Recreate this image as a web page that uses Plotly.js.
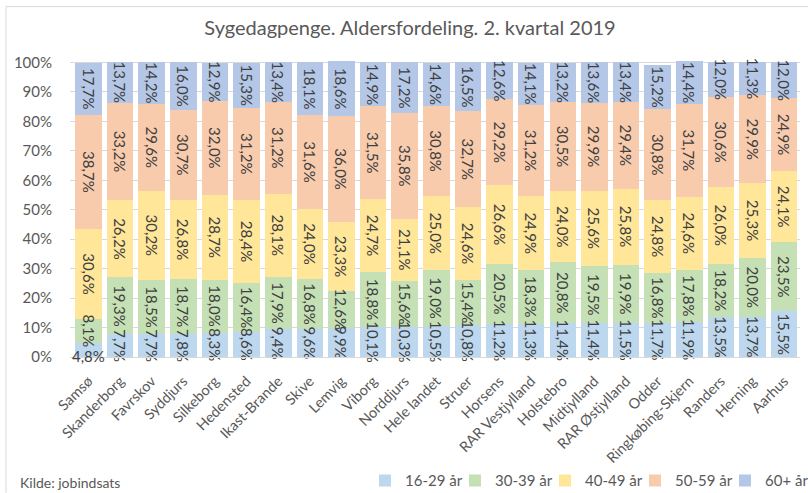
<!DOCTYPE html>
<html>
<head>
<meta charset="utf-8">
<script src="https://cdn.plot.ly/plotly-3.0.1.min.js"></script>
<style>
html,body{margin:0;padding:0;background:#fff;}
#chart{width:808px;height:493px;}
</style>
</head>
<body>
<div id="chart"></div>
<script>
var categories = ["Samsø","Skanderborg","Favrskov","Syddjurs","Silkeborg","Hedensted","Ikast-Brande","Skive","Lemvig","Viborg","Norddjurs","Hele landet","Struer","Horsens","RAR Vestjylland","Holstebro","Midtjylland","RAR Østjylland","Odder","Ringkøbing-Skjern","Randers","Herning","Aarhus"];
var age16_29 = [4.8,7.7,7.7,7.8,8.3,8.6,9.4,9.6,9.9,10.1,10.3,10.5,10.8,11.2,11.3,11.4,11.4,11.5,11.7,11.9,13.5,13.7,15.5];
var age30_39 = [8.1,19.3,18.5,18.7,18.0,16.4,17.9,16.8,12.6,18.8,15.6,19.0,15.4,20.5,18.3,20.8,19.5,19.9,16.8,17.8,18.2,20.0,23.5];
var age40_49 = [30.6,26.2,30.2,26.8,28.7,28.4,28.1,24.0,23.3,24.7,21.1,25.0,24.6,26.6,24.9,24.0,25.6,25.8,24.8,24.6,26.0,25.3,24.1];
var age50_59 = [38.7,33.2,29.6,30.7,32.0,31.2,31.2,31.6,36.0,31.5,35.8,30.8,32.7,29.2,31.2,30.5,29.9,29.4,30.8,31.7,30.6,29.9,24.9];
var age60p   = [17.7,13.7,14.2,16.0,12.9,15.3,13.4,18.1,18.6,14.9,17.2,14.6,16.5,12.6,14.1,13.2,13.6,13.4,15.2,14.4,12.0,11.3,12.0];
var seriesNames = ["16-29 år","30-39 år","40-49 år","50-59 år","60+ år"];
var yTicks = [0,10,20,30,40,50,60,70,80,90,100];

var colors = ["#BDD7EE","#C5E0B4","#FFE699","#F8CBAD","#B4C7E7"];
var seriesData = [age16_29, age30_39, age40_49, age50_59, age60p];
var FONT = "Lato, 'Open Sans', sans-serif";
var TXT = {family: FONT, size: 15, color: '#404040'};
var YMAX = 100.5;          // rounded shares add up to slightly over 100
var PH = 493 - 60.5 - 136;  // plot height in px

function fmt(v){ return v.toFixed(1).replace('.', ',') + '%'; }

// coloured stacked bars (no labels)
var traces = seriesData.map(function(arr, i){
  return {
    type: 'bar', name: seriesNames[i], x: categories, y: arr,
    textposition: 'none',
    marker: {color: colors[i], line: {width: 0}}, hoverinfo: 'x+y+name'
  };
});
// identical transparent stack on an overlaid axis carrying the labels,
// so labels that overflow their segment are drawn above all bars
seriesData.forEach(function(arr, i){
  traces.push({
    type: 'bar', name: seriesNames[i], showlegend: false, x: categories, y: arr, yaxis: 'y2',
    // Samsø's smallest segment is labelled horizontally below (annotation)
    text: arr.map(function(v, j){ return (i === 0 && j === 0) ? '' : fmt(v); }),
    textposition: 'inside', insidetextanchor: 'middle', textangle: 90,
    constraintext: 'none', cliponaxis: false,
    textfont: TXT, insidetextfont: TXT,
    marker: {color: 'rgba(0,0,0,0)', line: {width: 0}}, hoverinfo: 'skip'
  });
});

var layout = {
  width: 808, height: 493,
  margin: {l: 70, r: 8, t: 60.5, b: 136, autoexpand: false},
  paper_bgcolor: '#ffffff', plot_bgcolor: '#ffffff',
  barmode: 'stack', bargap: 0.16,
  font: {family: FONT, color: '#595959'},
  title: {
    text: 'Sygedagpenge. Aldersfordeling. 2. kvartal 2019',
    font: {family: FONT, size: 20, color: '#595959'},
    x: 410/808, xref: 'container', xanchor: 'center',
    y: 1 - 28/493, yref: 'container', yanchor: 'middle'
  },
  xaxis: {
    type: 'category', tickangle: -45, automargin: false,
    tickfont: {family: FONT, size: 14.5, color: '#595959'},
    showgrid: false, showline: true, linecolor: '#d9d9d9', linewidth: 1,
    ticks: 'outside', ticklen: 9, tickcolor: 'rgba(0,0,0,0)', fixedrange: true
  },
  yaxis: {
    range: [0, YMAX], tickvals: yTicks, ticktext: yTicks.map(function(t){ return t + '%'; }),
    automargin: false,
    tickfont: {family: FONT, size: 15, color: '#595959'},
    showgrid: true, gridcolor: '#d9d9d9', gridwidth: 1, zeroline: false, showline: false,
    ticks: 'outside', ticklen: 14, tickcolor: 'rgba(0,0,0,0)', fixedrange: true
  },
  yaxis2: {range: [0, YMAX], overlaying: 'y', visible: false, automargin: false,
           showgrid: false, zeroline: false, fixedrange: true},
  legend: {
    orientation: 'h', traceorder: 'normal',
    x: (365 - 70) / 730, xanchor: 'left', y: -(481 - 357) / PH, yanchor: 'middle',
    font: {family: FONT, size: 15, color: '#595959'},
    entrywidth: 45, entrywidthmode: 'pixels', itemwidth: 30, bgcolor: 'rgba(0,0,0,0)'
  },
  annotations: [
    {x: categories[0], y: 0, xref: 'x', yref: 'y', text: fmt(age16_29[0]), showarrow: false,
     xanchor: 'center', yanchor: 'middle', yshift: 1, font: TXT},
    {x: (18 - 70) / 730, y: -(483 - 357) / PH, xref: 'paper', yref: 'paper', text: 'Kilde: jobindsats',
     showarrow: false, xanchor: 'left', yanchor: 'middle', font: {family: FONT, size: 14, color: '#595959'}}
  ],
  shapes: [
    {type: 'line', xref: 'paper', yref: 'paper', x0: (6 - 70) / 730, x1: (808 - 70) / 730,
     y0: (357 - 6) / PH, y1: (357 - 6) / PH, line: {color: '#d9d9d9', width: 1}},
    {type: 'line', xref: 'paper', yref: 'paper', x0: (6 - 70) / 730, x1: (6 - 70) / 730,
     y0: (357 - 6) / PH, y1: -(493 - 357) / PH, line: {color: '#d9d9d9', width: 1}}
  ],
  showlegend: true
};

Plotly.newPlot('chart', traces, layout, {displayModeBar: false, staticPlot: true});
</script>
</body>
</html>
